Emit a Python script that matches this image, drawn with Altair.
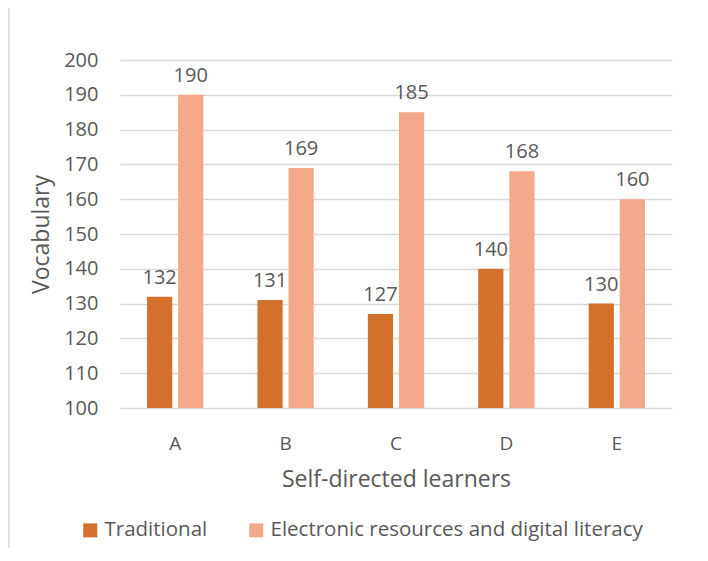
import altair as alt
import pandas as pd

categories = ["A", "B", "C", "D", "E"]
traditional = [132, 131, 127, 140, 130]
electronic = [190, 169, 185, 168, 160]
series = ["Traditional", "Electronic resources and digital literacy"]
colors = ["#D2702C", "#F3A98A"]
y_ticks = list(range(100, 201, 10))

rows = []
for c, t, e in zip(categories, traditional, electronic):
    rows.append({"learner": c, "series": series[0], "value": t})
    rows.append({"learner": c, "series": series[1], "value": e})
df = pd.DataFrame(rows)

FONT = "Open Sans"
TXT = "#595959"
GRID = "#D9D9D9"

x = alt.X(
    "learner:N", title="Self-directed learners", sort=categories,
    scale=alt.Scale(paddingInner=0.49, paddingOuter=0.245),
    axis=alt.Axis(labelAngle=0, ticks=False, domain=False, labelPadding=26,
                  titlePadding=15, labelFontSize=19, titleFontSize=23,
                  labelColor=TXT, titleColor=TXT, titleFontWeight="normal",
                  labelFont=FONT, titleFont=FONT),
)
xo = alt.XOffset("series:N", sort=series, scale=alt.Scale(paddingInner=0.19))
y = alt.Y(
    "value:Q", title="Vocabulary",
    scale=alt.Scale(domain=[100, 200], zero=False, nice=False),
    axis=alt.Axis(values=y_ticks, ticks=False, domain=False, grid=True,
                  gridColor=GRID, gridWidth=1.5, labelPadding=22,
                  labelFontSize=20, titleFontSize=23, labelColor=TXT,
                  titleColor=TXT, titleFontWeight="normal", titlePadding=10,
                  labelFont=FONT, titleFont=FONT),
)
color = alt.Color(
    "series:N", sort=series,
    scale=alt.Scale(domain=series, range=colors),
    legend=alt.Legend(title=None, orient="none", direction="horizontal",
                      legendX=-40, legendY=460, symbolType="square",
                      symbolSize=196, symbolStrokeWidth=0, labelFontSize=20.5,
                      labelColor=TXT, labelFont=FONT, columnPadding=38,
                      labelOffset=4, labelLimit=0),
)

base = alt.Chart(df)
bars = base.mark_bar().encode(x=x, xOffset=xo, y=y, y2=alt.datum(100), color=color)
labels = base.mark_text(baseline="alphabetic", dy=-13, fontSize=20, font=FONT, color=TXT).encode(
    x=x, xOffset=xo, y=y, text="value:Q"
)
border = alt.Chart(pd.DataFrame({"v": [0]})).mark_rule(color=GRID, strokeWidth=1.5).encode(
    x=alt.value(-111), y=alt.value(-52), y2=alt.value(488)
)

chart = alt.layer(border, bars, labels).properties(
    width=552, height=348,
    autosize=alt.AutoSizeParams(type="none"),
    padding={"left": 112, "top": 52, "right": 28, "bottom": 140},
).configure_view(stroke=None)

chart.save("out.html", embed_options={"renderer": "svg", "actions": False})
